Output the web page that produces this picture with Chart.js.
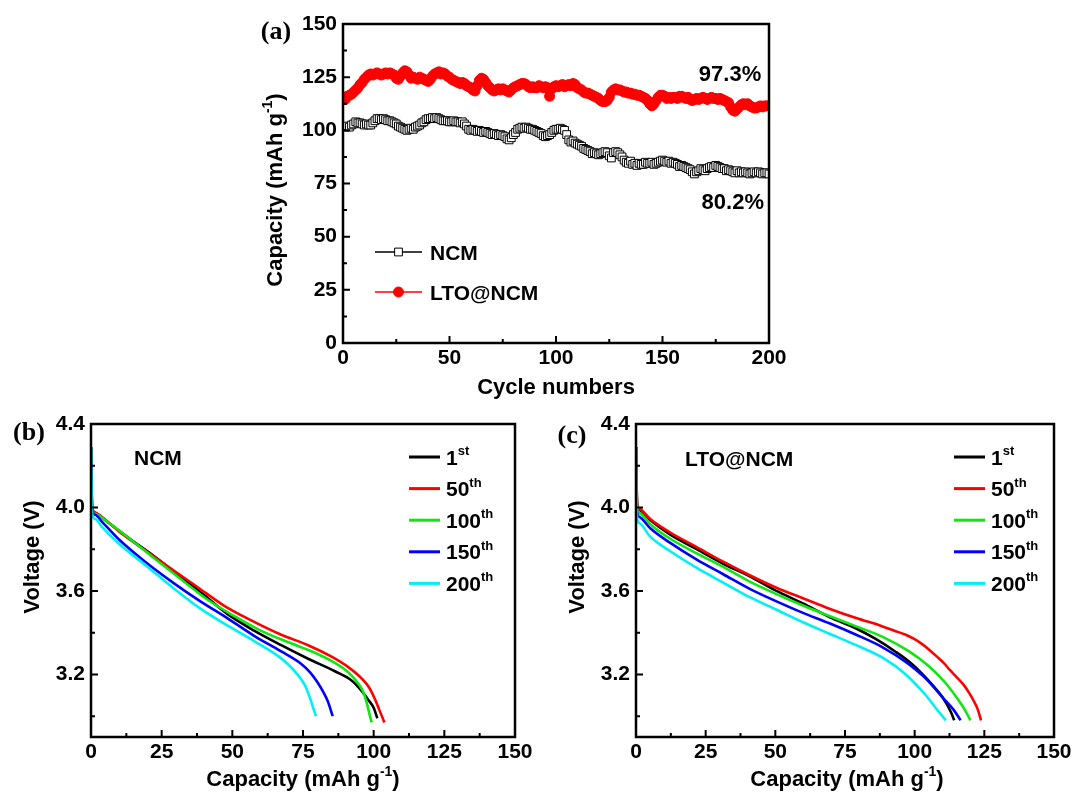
<!DOCTYPE html>
<html>
<head>
<meta charset="utf-8">
<script src="https://cdn.jsdelivr.net/npm/chart.js@4.4.1/dist/chart.umd.min.js"></script>
<style>
  html, body { margin: 0; padding: 0; background: #fff; }
  #wrap { position: relative; width: 1079px; height: 794px; }
  canvas { position: absolute; left: 0; top: 0; }
</style>
</head>
<body>
<div id="wrap">
  <canvas id="chartA" width="1079" height="794"></canvas>
  <canvas id="chartB" width="1079" height="794"></canvas>
  <canvas id="chartC" width="1079" height="794"></canvas>
</div>
<script>
// ---- data (a): discharge capacity per cycle, cycles 1..200 ----
const firstCycle = 1;
const ncmCapacity = [
  101.5, 102, 101.5, 102.5, 103, 104, 103.5, 103.5, 103, 102.5,
  103, 102.5, 102.5, 103.5, 104.5, 105.5, 105.5, 105, 105.5, 105,
  104.5, 104.5, 104, 103.5, 103, 102, 101.5, 101, 100.5, 100,
  100.5, 101, 100.5, 101.5, 102, 102.5, 103.5, 104, 105, 105.5,
  105.5, 106, 105.5, 106, 105.5, 105, 104.5, 104.5, 104.5, 104,
  104, 104.5, 104, 104, 103.5, 104, 103, 102, 100.5, 100,
  100.5, 100, 99.5, 100, 99.5, 99, 99.5, 99, 98.5, 98,
  98.5, 98, 97.5, 98, 97.5, 97, 96, 95.5, 96.5, 98,
  99, 100.5, 101, 101.5, 101, 101.5, 101, 100.5, 100.5, 100,
  99.5, 99, 98.5, 97.5, 97, 97.5, 98, 99, 100, 100.5,
  100.5, 101, 100.5, 100, 98, 95.5, 94.5, 95, 94, 93.5,
  93, 92.5, 91.5, 91, 90.5, 90, 89, 89.5, 89, 88.5,
  89, 89.5, 90, 89.5, 88, 87, 89.5, 90, 89.5, 88.5,
  87.5, 86, 85, 84.5, 85.5, 84, 84.5, 83.5, 84.5, 84,
  84, 85, 84.5, 84.5, 85, 84, 84.5, 85, 85.5, 86,
  85.5, 85, 85.5, 84.5, 85, 84.5, 84, 83, 83.5, 83,
  82.5, 82, 81.5, 80.5, 79.5, 80.5, 81, 82, 81.5, 81,
  82, 82.5, 83, 82.5, 83.5, 83, 82.5, 82, 82, 81,
  81.5, 81, 80.5, 80, 81, 80, 80.5, 80, 80.5, 80,
  79.5, 80, 80.5, 80, 80.5, 80, 79.5, 80, 80, 79.5
];
const ltoCapacity = [
  114.5, 116, 116.5, 117, 118, 119, 120, 121.5, 122.5, 124,
  125, 126, 126.5, 126, 126.5, 127, 126.5, 126, 126.5, 127,
  126.5, 127, 126.5, 126, 124.5, 124, 125.5, 127, 128, 127.5,
  126, 124.5, 125, 124.5, 124, 125, 124.5, 124, 123.5, 123,
  124, 125.5, 126.5, 127, 127.5, 126.5, 127, 126.5, 125.5, 125,
  124, 123.5, 123, 122.5, 122, 122.5, 122, 121, 120.5, 120,
  119, 118.5, 121, 123.5, 124.5, 124, 122.5, 121, 120, 119,
  118.5, 119, 119.5, 119, 119.5, 119, 118.5, 118, 119, 120,
  120.5, 121, 121.5, 122, 122, 121.5, 120.5, 120, 120.5, 120,
  120, 121, 120.5, 120, 120.5, 120, 116, 119.5, 120.5, 121,
  120.5, 121, 121.5, 120.5, 121, 121.5, 121, 122, 121.5, 120,
  119.5, 119, 118, 117.5, 117.5, 117, 116.5, 116, 115.5, 115,
  114, 113.5, 113.5, 114, 115.5, 118, 119, 119.5, 119, 119,
  118.5, 118, 118, 117.5, 117.5, 117, 117, 116.5, 116.5, 116,
  115.5, 115, 114, 112.5, 111.5, 112.5, 114, 115.5, 116.5, 116.5,
  116, 115, 115.5, 115, 115.5, 115.5, 115, 116, 116, 115.5,
  115, 115.5, 114.5, 114, 114.5, 115, 114.5, 115, 115.5, 115,
  114.5, 115, 115.5, 115, 115, 114.5, 115, 114.5, 114, 113.5,
  113, 111, 109.5, 109, 110, 111, 112, 112.5, 112, 112.5,
  111.5, 111, 110.5, 110.5, 111, 111.5, 111, 111.5, 111.5, 111.5
];
const cycleTicks = [0, 50, 100, 150, 200];
const cycleMinorTicks = [25, 75, 125, 175];
const capacityTicks = [0, 25, 50, 75, 100, 125, 150];
const capacityMinorTicks = [12.5, 37.5, 62.5, 87.5, 112.5, 137.5];

// ---- data (b)/(c): discharge curves [capacity mAh/g, voltage V] ----
const cycleNames = [['1', 'st'], ['50', 'th'], ['100', 'th'], ['150', 'th'], ['200', 'th']];
const curveColors = ['#000000', '#ff0000', '#12e612', '#0000ff', '#00f0f8'];

const ncm1st = [[0, 4.29], [0.4, 4.0], [1.5, 3.975], [5.4, 3.935], [13.7, 3.85], [22, 3.77], [31.5, 3.67], [40, 3.58], [48.2, 3.49], [57.7, 3.41], [67.3, 3.34], [76.8, 3.275], [86.3, 3.215], [92.3, 3.17], [95.5, 3.125], [98, 3.08], [100, 3.04], [101.3, 2.99]];
const ncm50th = [[0, 4.29], [0.4, 4.0], [1.5, 3.975], [4.2, 3.95], [11.3, 3.87], [19.6, 3.79], [28, 3.71], [37.5, 3.62], [47, 3.53], [56.5, 3.46], [67.3, 3.39], [76.8, 3.34], [85.1, 3.285], [91, 3.235], [95.8, 3.18], [98.5, 3.135], [100.5, 3.08], [102, 3.03], [103.8, 2.97]];
const ncm100th = [[0, 4.29], [0.4, 3.99], [1.5, 3.97], [5.4, 3.935], [13.7, 3.85], [22, 3.76], [31.5, 3.66], [41, 3.56], [50.6, 3.48], [60, 3.41], [69.6, 3.355], [79, 3.305], [86.3, 3.255], [91, 3.21], [94.6, 3.155], [96.5, 3.11], [97.8, 3.05], [98.7, 3.0], [99.3, 2.97]];
const ncm150th = [[0, 4.29], [0.4, 3.99], [1.5, 3.965], [4, 3.93], [10, 3.845], [19.6, 3.735], [29, 3.64], [38.7, 3.55], [48.2, 3.47], [57.7, 3.385], [67.3, 3.31], [74.4, 3.25], [77.5, 3.21], [80, 3.165], [82, 3.12], [83.8, 3.07], [85.5, 3.00]];
const ncm200th = [[0, 4.29], [0.4, 3.97], [1.5, 3.945], [4, 3.905], [10, 3.825], [19.6, 3.72], [29, 3.615], [38.7, 3.515], [48.2, 3.435], [57.7, 3.36], [66, 3.29], [70, 3.245], [73, 3.2], [75.6, 3.15], [77.4, 3.09], [78.6, 3.04], [79.6, 3.00]];

const lto1st = [[0, 4.29], [0.4, 4.02], [1.2, 3.99], [5.1, 3.94], [12.3, 3.87], [21.8, 3.80], [31.3, 3.73], [40.8, 3.67], [50.4, 3.60], [59.9, 3.54], [69.4, 3.475], [79, 3.42], [86, 3.37], [93, 3.31], [99, 3.25], [105, 3.17], [110, 3.09], [113, 3.02], [114.2, 2.98]];
const lto50th = [[0, 4.29], [0.4, 4.02], [1.2, 3.995], [5.1, 3.945], [12.3, 3.88], [21.8, 3.81], [31.3, 3.74], [40.8, 3.675], [50.4, 3.615], [59.9, 3.565], [69.4, 3.515], [79, 3.47], [88.5, 3.43], [92.5, 3.41], [96.8, 3.39], [99.8, 3.37], [102.7, 3.345], [105.5, 3.315], [108, 3.285], [110.4, 3.255], [112.7, 3.22], [115.2, 3.185], [117.6, 3.15], [119.6, 3.11], [121.3, 3.07], [122.7, 3.03], [123.8, 2.98]];
const lto100th = [[0, 4.29], [0.4, 4.0], [1.2, 3.975], [5.1, 3.92], [12.3, 3.85], [21.8, 3.78], [31.3, 3.715], [40.8, 3.645], [50.4, 3.585], [59.9, 3.53], [69.4, 3.48], [79, 3.43], [88.5, 3.38], [98, 3.31], [105, 3.24], [111, 3.16], [115, 3.09], [118, 3.03], [120, 2.98]];
const lto150th = [[0, 4.29], [0.4, 3.98], [1.2, 3.955], [5.1, 3.90], [12.3, 3.83], [21.8, 3.75], [31.3, 3.68], [40.8, 3.61], [50.4, 3.55], [59.9, 3.495], [69.4, 3.445], [79, 3.39], [88.5, 3.33], [96.8, 3.26], [104, 3.18], [110, 3.09], [114, 3.03], [116.5, 2.98]];
const lto200th = [[0, 4.29], [0.4, 3.95], [1.2, 3.925], [5.1, 3.86], [12.3, 3.79], [21.8, 3.71], [31.3, 3.64], [40.8, 3.57], [50.4, 3.51], [59.9, 3.45], [69.4, 3.395], [79, 3.34], [88.5, 3.28], [96.8, 3.20], [104, 3.10], [108.7, 3.02], [111.2, 2.98]];

const specCapTicks = [0, 25, 50, 75, 100, 125, 150];
const specCapMinorTicks = [12.5, 37.5, 62.5, 87.5, 112.5, 137.5];
const voltageTicks = [3.2, 3.6, 4.0, 4.4];
const voltageMinorTicks = [3.0, 3.4, 3.8, 4.2];

// ---- helpers ----
const fontFam = '"Liberation Sans", Arial, Helvetica, sans-serif';
const f = size => `bold ${size}px ${fontFam}`;
const tickFont = { family: fontFam, size: 21, weight: 'bold', lineHeight: 1.2 };

Chart.defaults.animation = false;
Chart.defaults.color = '#000';

// text with optional superscript pieces: parts = [[text, isSup], ...]
function drawRich(ctx, parts, x, y, size, align, rotate) {
  const sup = Math.round(size * 0.62);
  ctx.save();
  ctx.translate(x, y);
  if (rotate) ctx.rotate(-Math.PI / 2);
  let w = 0;
  parts.forEach(p => { ctx.font = f(p[1] ? sup : size); w += ctx.measureText(p[0]).width; });
  let cx = align === 'center' ? -w / 2 : 0;
  const base = size * 0.36;
  ctx.textAlign = 'left';
  ctx.textBaseline = 'alphabetic';
  ctx.fillStyle = '#000';
  parts.forEach(p => {
    ctx.font = f(p[1] ? sup : size);
    ctx.fillText(p[0], cx, p[1] ? base - size * 0.46 : base);
    cx += ctx.measureText(p[0]).width;
  });
  ctx.restore();
}

// frame, inward ticks, titles, labels and legends
const decorPlugin = {
  id: 'decor',
  afterDraw(chart, args, o) {
    const ctx = chart.ctx;
    const { left, right, top, bottom } = chart.chartArea;
    const xs = chart.scales.x, ys = chart.scales.y;
    ctx.save();
    ctx.strokeStyle = '#000';
    ctx.lineWidth = 2;
    ctx.beginPath();
    o.xMajor.forEach(v => { const p = xs.getPixelForValue(v); ctx.moveTo(p, bottom); ctx.lineTo(p, bottom - 7); });
    o.xMinor.forEach(v => { const p = xs.getPixelForValue(v); ctx.moveTo(p, bottom); ctx.lineTo(p, bottom - 4); });
    o.yMajor.forEach(v => { const p = ys.getPixelForValue(v); ctx.moveTo(left, p); ctx.lineTo(left + 7, p); });
    o.yMinor.forEach(v => { const p = ys.getPixelForValue(v); ctx.moveTo(left, p); ctx.lineTo(left + 4, p); });
    ctx.stroke();
    ctx.lineWidth = 2.5;
    ctx.strokeRect(left, top, right - left, bottom - top);

    // panel label
    ctx.font = 'bold 26px "Liberation Serif", "Times New Roman", serif';
    ctx.fillStyle = '#000';
    ctx.textAlign = 'center';
    ctx.textBaseline = 'middle';
    ctx.fillText(o.panel[0], o.panel[1], o.panel[2]);

    // axis titles
    drawRich(ctx, o.xTitle, o.xTitlePos[0], o.xTitlePos[1], 22, 'center', false);
    drawRich(ctx, o.yTitle, o.yTitlePos[0], o.yTitlePos[1], 22, 'center', true);

    // notes in data coordinates
    (o.notes || []).forEach(n => {
      drawRich(ctx, [[n[0], false]], xs.getPixelForValue(n[1]), ys.getPixelForValue(n[2]), 22, 'center', false);
    });
    // plain text labels in pixel offsets from chart area
    (o.labels || []).forEach(n => {
      drawRich(ctx, [[n[0], false]], left + n[1], top + n[2], 21, 'left', false);
    });

    // legend
    const lg = o.legend;
    chart.data.datasets.forEach((ds, i) => {
      const y = top + lg.y0 + i * lg.gap;
      ctx.strokeStyle = ds.borderColor;
      ctx.lineWidth = lg.lineWidth;
      ctx.beginPath();
      ctx.moveTo(left + lg.x0, y);
      ctx.lineTo(left + lg.x1, y);
      ctx.stroke();
      if (lg.markers) {
        ctx.fillStyle = ds.pointBackgroundColor;
        ctx.strokeStyle = ds.pointBorderColor;
        ctx.lineWidth = ds.pointBorderWidth;
        Chart.helpers.drawPoint(ctx, { pointStyle: ds.pointStyle, radius: ds.pointRadius, rotation: 0, borderWidth: ds.pointBorderWidth }, left + (lg.x0 + lg.x1) / 2, y);
      }
      drawRich(ctx, lg.text[i], left + lg.tx, y, 21, 'left', false);
    });
    ctx.restore();
  }
};

function scaleOpts(min, max, major, width, height, fmt) {
  return {
    type: 'linear', min, max,
    afterBuildTicks: s => { s.ticks = major.map(v => ({ value: v })); },
    afterFit: s => { if (width) s.width = width; if (height) s.height = height; },
    grid: { display: false, drawTicks: false },
    border: { display: false },
    ticks: {
      font: tickFont, color: '#000', autoSkip: false, maxRotation: 0,
      padding: width ? 6 : 3,
      callback: fmt || (v => v)
    }
  };
}

// ---- (a) cycling ----
new Chart(document.getElementById('chartA'), {
  type: 'line',
  data: {
    datasets: [
      {
        label: 'NCM',
        data: ncmCapacity.map((v, i) => ({ x: i + firstCycle, y: v })),
        borderColor: '#000', borderWidth: 1,
        pointStyle: 'rect', pointRadius: 5.5,
        pointBackgroundColor: '#fff', pointBorderColor: '#000', pointBorderWidth: 1,
        order: 2
      },
      {
        label: 'LTO@NCM',
        data: ltoCapacity.map((v, i) => ({ x: i + firstCycle, y: v })),
        borderColor: '#ff0000', borderWidth: 1.5,
        pointStyle: 'circle', pointRadius: 5,
        pointBackgroundColor: '#ff0000', pointBorderColor: '#ff0000', pointBorderWidth: 1,
        order: 1
      }
    ]
  },
  options: {
    responsive: false, devicePixelRatio: 1, events: [],
    layout: { padding: { left: 273, right: 310, top: 24, bottom: 411 } },
    scales: {
      x: scaleOpts(0, 200, cycleTicks, 0, 40),
      y: scaleOpts(0, 150, capacityTicks, 70, 0)
    },
    plugins: {
      legend: { display: false }, tooltip: { enabled: false },
      decor: {
        xMajor: cycleTicks, xMinor: cycleMinorTicks,
        yMajor: capacityTicks, yMinor: capacityMinorTicks,
        panel: ['(a)', 276, 32],
        xTitle: [['Cycle numbers', false]], xTitlePos: [556, 386],
        yTitle: [['Capacity (mAh g', false], ['-1', true], [')', false]], yTitlePos: [274, 190],
        notes: [['97.3%', 181.7, 127], ['80.2%', 183, 66.8]],
        legend: { x0: 32, x1: 79, tx: 87, y0: 228, gap: 40, lineWidth: 1.5, markers: true,
                  text: [[['NCM', false]], [['LTO@NCM', false]]] }
      }
    }
  },
  plugins: [decorPlugin]
});

// ---- (b), (c) discharge profiles ----
function curveChart(id, curves, padding, decor) {
  return new Chart(document.getElementById(id), {
    type: 'line',
    data: {
      datasets: curves.map((c, i) => ({
        label: cycleNames[i].join(''),
        data: c.map(p => ({ x: p[0], y: p[1] })),
        borderColor: curveColors[i], borderWidth: 2.6,
        pointRadius: 0, cubicInterpolationMode: 'monotone', borderJoinStyle: 'round',
        order: curves.length - i
      }))
    },
    options: {
      responsive: false, devicePixelRatio: 1, events: [],
      layout: { padding },
      scales: {
        x: scaleOpts(0, 150, specCapTicks, 0, 40),
        y: scaleOpts(2.9, 4.4, voltageTicks, 70, 0, v => v.toFixed(1))
      },
      plugins: {
        legend: { display: false }, tooltip: { enabled: false },
        decor: Object.assign({
          xMajor: specCapTicks, xMinor: specCapMinorTicks,
          yMajor: voltageTicks, yMinor: voltageMinorTicks,
          xTitle: [['Capacity (mAh g', false], ['-1', true], [')', false]],
          yTitle: [['Voltage (V)', false]],
          legend: { x0: 318, x1: 349, tx: 355, y0: 33, gap: 31.6, lineWidth: 3, markers: false,
                    text: cycleNames.map(n => [[n[0], false], [n[1], true]]) }
        }, decor)
      }
    },
    plugins: [decorPlugin]
  });
}

curveChart('chartB', [ncm1st, ncm50th, ncm100th, ncm150th, ncm200th],
  { left: 21, right: 564, top: 424, bottom: 17 },
  { panel: ['(b)', 29, 433], xTitlePos: [303, 778], yTitlePos: [31, 557], labels: [['NCM', 43, 33]] });

curveChart('chartC', [lto1st, lto50th, lto100th, lto150th, lto200th],
  { left: 566, right: 25, top: 424, bottom: 17 },
  { panel: ['(c)', 572, 436], xTitlePos: [847, 778], yTitlePos: [576, 557], labels: [['LTO@NCM', 49, 34]] });
</script>
</body>
</html>
